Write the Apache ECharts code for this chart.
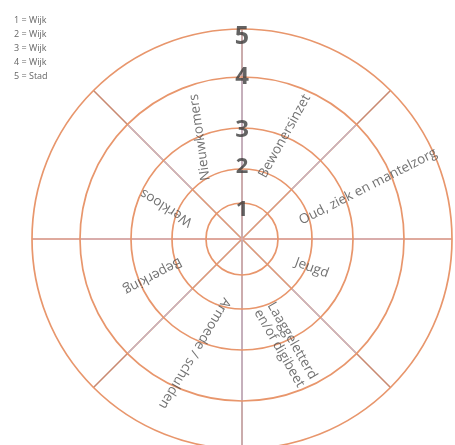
<!DOCTYPE html>
<html><head><meta charset="utf-8">
<script src="https://cdn.jsdelivr.net/npm/echarts@6/dist/echarts.min.js"></script>
<style>html,body{margin:0;padding:0;background:#fff}#c{width:455px;height:445px}</style>
</head><body><div id="c"></div>
<script>
// ---- data ----
const levels = ['1', '2', '3', '4', '5'];
const legendItems = ['1 = Wijk', '2 = Wijk', '3 = Wijk', '4 = Wijk', '5 = Stad'];
const categories = ['Bewonersinzet', 'Oud, ziek en mantelzorg', 'Jeugd', 'Laaggeletterd\nen/of digibeet',
  'Armoede / schulden', 'Beperking', 'Werkloos', 'Nieuwkomers'];
const labelDistance = [2.65, 3.25, 1.8, 2.72, 2.95, 2.3, 1.95, 2.62];

// ---- layout / style ----
const chart = echarts.init(document.getElementById('c'), null, {renderer: 'canvas'});
const CX = 242, CY = 239;
const ringRadius = [36, 70, 111, 162, 210];
const R = ringRadius[4];
const labelTilt = [61, 27, -20, -60, -121, -152, 148, 98];
const numberNudge = [-7, 2, -2, 0, -8];
const numberSize = [22, 22, 24, 24, 25];
const RING = '#e8966c';
const V = '#c2b6ca', H = '#e8aca6', DI = '#e39a76', DM = '#beb2cc', DO = '#c98a72';

// polar components, drawn in this order (outer first)
const layers = [
  {r: ringRadius[4], ring: true, split: {c: DO, w: 1.6, start: 90, step: 45}},
  {r: ringRadius[3], ring: true, split: {c: DM, w: 1, start: 90, step: 45}},
  {r: ringRadius[2], ring: true},
  {r: ringRadius[1], ring: true, split: {c: DI, w: 1, start: 90, step: 45}},
  {r: ringRadius[0], ring: true},
  {r: ringRadius[4], ring: false, split: {c: V, w: 1, start: 90, step: 180}},
  {r: ringRadius[4], ring: false, split: {c: H, w: 1, start: 0, step: 180}}
];
const polar = [], angleAxis = [], radiusAxis = [];
layers.forEach((L, i) => {
  polar.push({center: [CX, CY], radius: L.r});
  angleAxis.push({
    polarIndex: i, type: 'value', min: 0, max: 360, interval: L.split ? L.split.step : 90,
    startAngle: L.split ? L.split.start : 90, clockwise: true,
    axisLine: {show: L.ring, lineStyle: {color: RING, width: 1.7}},
    axisTick: {show: false}, axisLabel: {show: false},
    splitLine: L.split ? {show: true, lineStyle: {color: L.split.c, width: L.split.w}} : {show: false},
    splitArea: {show: false}
  });
  radiusAxis.push({polarIndex: i, type: 'value', min: 0, max: 5, show: false,
    axisLine: {show: false}, axisTick: {show: false}, axisLabel: {show: false}, splitLine: {show: false}});
});

const catData = categories.map((c, i) => ({
  name: c, value: [labelDistance[i], 22.5 + 45 * i],
  label: {rotate: labelTilt[i]}
}));
const numData = levels.map((l, i) => ({
  name: l, value: [(ringRadius[i] + numberNudge[i]) / R * 5, 0],
  label: {fontSize: numberSize[i]}
}));

chart.setOption({
  backgroundColor: '#fff',
  animation: false,
  title: {
    text: legendItems.join('\n'), left: 9, top: 8,
    textStyle: {fontSize: 9, lineHeight: 14.2, color: '#666', fontWeight: 'normal', fontFamily: 'Open Sans'}
  },
  polar, angleAxis, radiusAxis,
  series: [
    {
      type: 'scatter', coordinateSystem: 'polar', polarIndex: 0, symbolSize: 0, silent: true, z: 20,
      data: catData,
      label: {show: true, position: 'inside', formatter: '{b}', color: '#4e4e4e', fontSize: 13.5,
        fontFamily: 'Open Sans', lineHeight: 15, align: 'center', verticalAlign: 'middle'}
    },
    {
      type: 'scatter', coordinateSystem: 'polar', polarIndex: 0, symbolSize: 0, silent: true, z: 21,
      data: numData,
      label: {show: true, position: 'inside', formatter: '{b}', color: '#3c3c3c', fontWeight: 'bold',
        fontFamily: 'Open Sans', align: 'center', verticalAlign: 'middle'}
    }
  ]
});
</script></body></html>
